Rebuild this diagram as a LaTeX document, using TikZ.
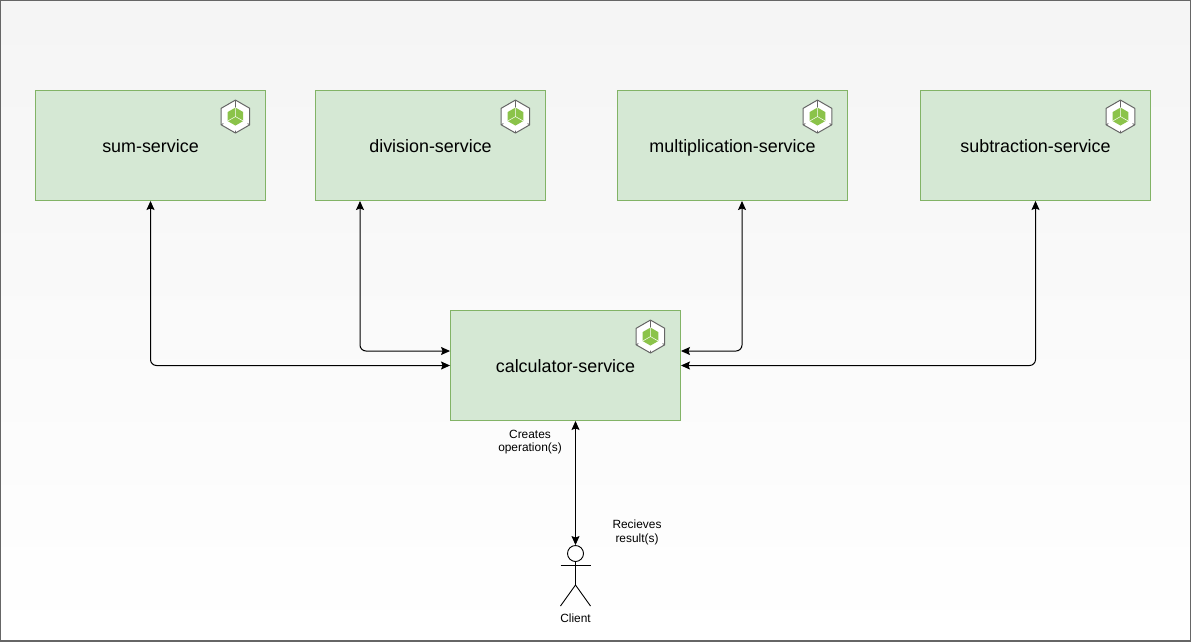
\documentclass[tikz,border=0pt]{standalone}
\usepackage{fontspec}
\setmainfont{Liberation Sans}
\usetikzlibrary{arrows.meta}

\definecolor{svcfill}{HTML}{D5E8D4}
\definecolor{svcline}{HTML}{82B366}
\definecolor{cubegreen}{HTML}{8BC34A}
\definecolor{hexline}{HTML}{666666}

\tikzset{
  service/.style={draw=svcline, fill=svcfill, line width=0.9pt, minimum width=230pt, minimum height=110pt, inner sep=0pt, text height=15pt, text depth=2pt, font=\fontsize{17.9}{20}\selectfont},
  link/.style={draw=black, line width=1pt, rounded corners=6pt, {Stealth[length=9pt,width=8pt,inset=1.5pt]}-{Stealth[length=9pt,width=8pt,inset=1.5pt]}},
  note/.style={font=\fontsize{11.9}{13.5}\selectfont, align=center, inner sep=0pt},
  svcicon/.pic={
    % outer hexagon
    \draw[hexline, fill=white, line width=1pt, line join=round] (90:16.5) -- (30:16.5) -- (-30:16.5) -- (-90:16.5) -- (-150:16.5) -- (150:16.5) -- cycle;
    \draw[hexline, line width=0.8pt] (90:16.5) -- (90:14) (-90:16.5) -- (-90:9) (30:16.5) -- (30:14) (150:16.5) -- (150:14);
    % cube in the middle
    \fill[cubegreen] (90:9) -- (30:9) -- (-30:9) -- (-90:9) -- (-150:9) -- (150:9) -- cycle;
    \draw[white, line width=0.5pt] (0,0) -- (-90:9) (0,0) -- (30:9) (0,0) -- (150:9);
  }
}

\begin{document}
\begin{tikzpicture}[x=1pt, y=-1pt]
  \useasboundingbox (0,0) rectangle (1191,641);
  \shade[top color=black!4, bottom color=white, draw=hexline, line width=1.5pt] (0,0) rectangle (1191,641);

  \node[service] (sum) at (150.5,145.5) {sum-service};
  \node[service] (division) at (430.5,145.5) {division-service};
  \node[service] (multiplication) at (732.5,145.5) {multiplication-service};
  \node[service] (subtraction) at (1035.5,145.5) {subtraction-service};
  \node[service] (calculator) at (565.5,365.5) {calculator-service};

  \foreach \svc in {sum, division, multiplication, subtraction, calculator}
    \pic at ([shift={(-30.5,26.5)}]\svc.north east) {svcicon};

  \coordinate (divisionfoot) at (360,201);
  \coordinate (multiplicationfoot) at (742,201);
  \coordinate (calcwest) at ([yshift=14.5pt]calculator.west);
  \coordinate (calceast) at ([yshift=14.5pt]calculator.east);
  \coordinate (calcfoot) at ([xshift=10pt]calculator.south);

  \draw[link] (sum.south) |- (calculator.west);
  \draw[link] (divisionfoot) |- (calcwest);
  \draw[link] (multiplicationfoot) |- (calceast);
  \draw[link] (subtraction.south) |- (calculator.east);

  % client figure
  \node[circle, draw, line width=0.9pt, minimum size=16pt, inner sep=0pt, fill=white] (head) at (575.5,553.5) {};
  \coordinate (hip) at (575.5,585);
  \draw[line width=0.9pt] (head.south) -- (hip);
  \draw[line width=0.9pt] (560.5,565) -- (590.5,565);
  \draw[line width=0.9pt] (560.5,606) -- (hip) -- (590.5,606);

  \draw[link] (calcfoot) -- (head.north);

  \node[note] (creates) at (530,442.3) {Creates\\operation(s)};
  \node[note] (recieves) at (637,532.3) {Recieves\\result(s)};
  \node[note] (client) at (575.5,618.5) {Client};
\end{tikzpicture}
\end{document}
